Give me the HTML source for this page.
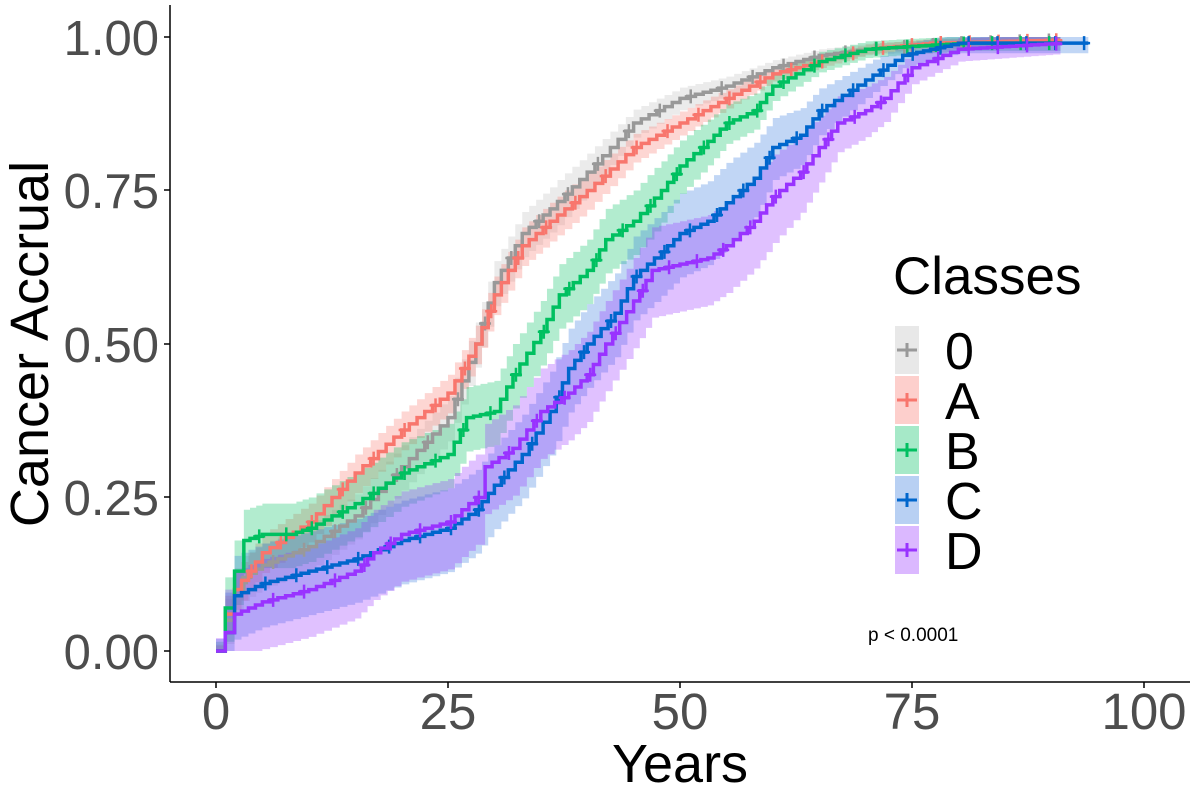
<!DOCTYPE html>
<html><head><meta charset="utf-8"><style>
html,body{margin:0;padding:0;background:#fff;}
svg{display:block;font-family:"Liberation Sans",Arial,sans-serif;}
</style></head><body>
<svg id="s" width="1200" height="800" xmlns="http://www.w3.org/2000/svg">
<rect width="1200" height="800" fill="#fff"/>
<g id="bands"></g><g id="lines"></g>
<line x1="170" y1="5" x2="170" y2="682" stroke="#000" stroke-width="1.5"/>
<line x1="170" y1="682" x2="1190" y2="682" stroke="#000" stroke-width="1.5"/>
<g fill="#4d4d4d" font-size="49" text-anchor="end">
<text x="159" y="55">1.00</text><text x="159" y="208">0.75</text><text x="159" y="362">0.50</text><text x="159" y="515">0.25</text><text x="159" y="669">0.00</text>
</g>
<g stroke="#000" stroke-width="1.5"><line x1="164" y1="37" x2="170" y2="37"/><line x1="164" y1="190" x2="170" y2="190"/><line x1="164" y1="344" x2="170" y2="344"/><line x1="164" y1="497" x2="170" y2="497"/><line x1="164" y1="651" x2="170" y2="651"/>
<line x1="216" y1="682" x2="216" y2="688"/><line x1="448" y1="682" x2="448" y2="688"/><line x1="680" y1="682" x2="680" y2="688"/><line x1="912" y1="682" x2="912" y2="688"/><line x1="1144" y1="682" x2="1144" y2="688"/></g>
<g fill="#4d4d4d" font-size="51" text-anchor="middle">
<text x="216" y="729">0</text><text x="448" y="729">25</text><text x="680" y="729">50</text><text x="912" y="729">75</text><text x="1144" y="729">100</text>
</g>
<text x="680" y="782" font-size="54" text-anchor="middle">Years</text>
<text transform="translate(48,344) rotate(-90)" font-size="54" text-anchor="middle">Cancer Accrual</text>
<text x="893" y="294" font-size="53">Classes</text>
<g id="leg"></g>
<text x="868" y="641" font-size="19">p &lt; 0.0001</text>
</svg>
<script>
const X=t=>216+t*9.28, Y=v=>651-v*614;
const S=[
["#999999","#bdbdbd",0.035,[[0,0],[1,.05],[2,.1],[3,.12],[5,.14],[10,.17],[15,.22],[20,.3],[25,.38],[28,.5],[30,.6],[33,.68],[36,.72],[40,.78],[45,.86],[50,.9],[55,.92],[60,.95],[65,.97],[70,.98],[80,.99],[91,.995]]],
["#F8766D","#F8766D",0.03,[[0,0],[1,.06],[2,.1],[5,.16],[10,.21],[15,.29],[20,.36],[25,.42],[28,.5],[30,.58],[33,.66],[36,.7],[40,.75],[45,.82],[50,.86],[55,.9],[60,.94],[65,.96],[70,.98],[77,.99],[91,.995]]],
["#00C060","#00C060",0.05,[[0,0],[1,.07],[2,.13],[3,.18],[5,.19],[8,.19],[10,.2],[15,.24],[20,.29],[25,.32],[27,.38],[30,.39],[32,.45],[35,.52],[37,.58],[40,.62],[42,.67],[45,.7],[48,.75],[50,.79],[53,.83],[55,.86],[58,.88],[60,.92],[65,.96],[70,.98],[75,.985],[81,.99],[91,.99]]],
["#0066CC","#3377dd",0.065,[[0,0],[1,.03],[2,.09],[5,.11],[10,.13],[15,.15],[20,.18],[25,.2],[28,.23],[30,.27],[33,.32],[36,.39],[38,.46],[40,.5],[43,.55],[45,.61],[48,.65],[50,.68],[53,.7],[55,.73],[58,.77],[60,.82],[63,.84],[65,.88],[70,.93],[74,.97],[80,.99],[94,.99]]],
["#9933FF","#9933FF",0.07,[[0,0],[1,.03],[2,.06],[5,.08],[10,.1],[15,.13],[17,.16],[20,.19],[25,.21],[28,.25],[29,.3],[32,.33],[35,.39],[38,.42],[40,.45],[42,.5],[45,.57],[47,.62],[50,.63],[53,.64],[55,.66],[58,.7],[60,.74],[63,.78],[65,.82],[67,.86],[70,.88],[72,.9],[75,.95],[80,.98],[91,.99]]]];
const ns="http://www.w3.org/2000/svg";
function el(t,a,p){const e=document.createElementNS(ns,t);for(const k in a)e.setAttribute(k,a[k]);document.getElementById(p).appendChild(e);return e;}
function fine(p){const o=[[p[0][0],p[0][1]]];
 for(let i=1;i<p.length;i++){const [t0,v0]=p[i-1],[t1,v1]=p[i];const n=Math.max(1,Math.round((t1-t0)/0.8));
  for(let k=1;k<=n;k++)o.push([t0+(t1-t0)*k/n,v0+(v1-v0)*k/n]);}
 return o;}
S.forEach(([c,bc,w,p0],si)=>{
 const p=fine(p0);
 let d="M"+X(p[0][0])+","+Y(p[0][1]);
 for(let i=1;i<p.length;i++){d+=" H"+X(p[i][0])+" V"+Y(p[i][1]);}
 el("path",{d:d,fill:"none",stroke:c,"stroke-width":3.5},"lines");
 let up=[],lo=[];
 for(let i=0;i<p.length;i++){const v=p[i][1];const ww=w*Math.min(1,(1-v)*3+.2)*(v<.02?0.3:1);
  const x0=X(p[i][0]),x1=X(i+1<p.length?p[i+1][0]:p[i][0]);
  up.push([x0,Y(Math.min(1,v+ww))],[x1,Y(Math.min(1,v+ww))]);
  lo.push([x0,Y(Math.max(0,v-ww*1.1))],[x1,Y(Math.max(0,v-ww*1.1))]);}
 const pts=up.concat(lo.reverse()).map(q=>q.join(",")).join(" ");
 el("polygon",{points:pts,fill:bc,"fill-opacity":.3},"bands");
 for(let i=3+si;i<p.length;i+=4){const x=X(p[i][0])+3,y=Y(p[i][1]);
  el("path",{d:`M${x-6},${y}H${x+6}M${x},${y-7}V${y+7}`,stroke:c,"stroke-width":2.5},"lines");}
});
S.forEach(([c,bc],i)=>{const y=326+i*50;
 el("rect",{x:895,y:y,width:24,height:48,fill:bc,"fill-opacity":.35},"leg");
 el("path",{d:`M897,${y+24}H917M907,${y+17}V${y+31}`,stroke:c,"stroke-width":3},"leg");
 const t=el("text",{x:945,y:y+43,"font-size":52},"leg");t.textContent=["0","A","B","C","D"][i];});
</script>
</body></html>
